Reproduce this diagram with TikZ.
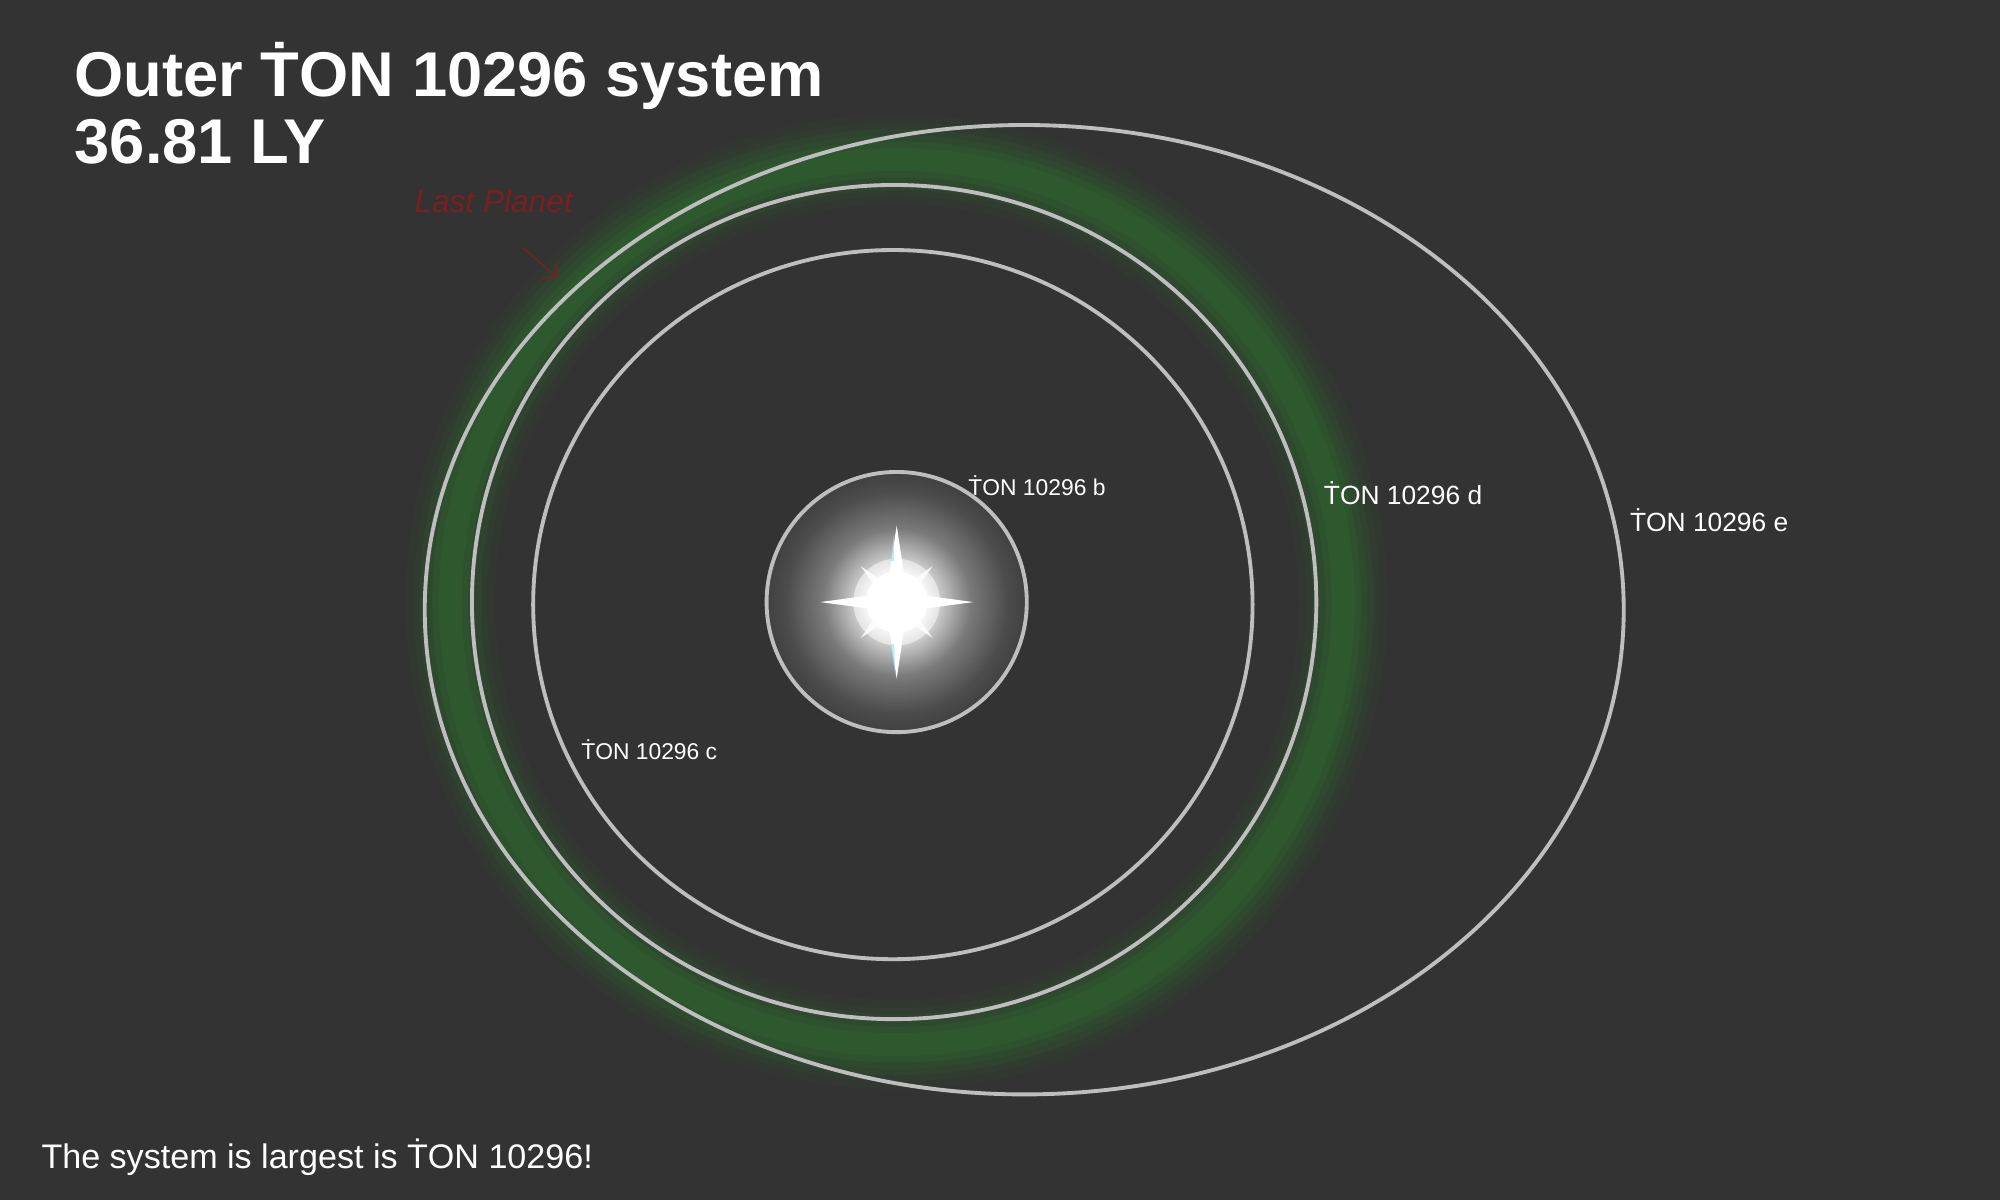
\documentclass[tikz,border=0pt]{standalone}
\usepackage{fontspec}
\setmainfont{Liberation Sans}
\usetikzlibrary{arrows.meta, positioning}
\definecolor{bgdark}{HTML}{333333}
\definecolor{orbitgray}{HTML}{BEBEBE}
\definecolor{glowgreen}{HTML}{2E7A2E}
\definecolor{penred}{HTML}{7A2020}
\pgfdeclareradialshading{stardisk}{\pgfpoint{0bp}{0bp}}{%
  color(0bp)=(white); color(4.5bp)=(white); color(8bp)=(white!80!black);
  color(14bp)=(white!48!black); color(21bp)=(white!30!black); color(25bp)=(white!25!black);
  color(50bp)=(white!25!black)}
\begin{document}
\begin{tikzpicture}[x=0.012755cm, y=-0.012755cm,
    orbit/.style={draw=orbitgray, line width=1.1pt},
    planet/.style={text=white, inner sep=0pt, font=\fontsize{6.5}{8}\selectfont},
    bigplanet/.style={text=white, inner sep=0pt, font=\fontsize{7.5}{9}\selectfont}
]
    \fill[bgdark] (0,0) rectangle (1568,941);
    \useasboundingbox (0,0) rectangle (1568,941);

    % green belt
    \foreach \w/\o in {70/0.06, 58/0.08, 48/0.1, 38/0.14, 28/0.18, 18/0.2}
        \draw[glowgreen, line width=\w*0.3627pt, opacity=\o] (703,472) ellipse [x radius=350, y radius=347];

    % star
    \coordinate (star) at (703,472);
    \shade[shading=stardisk] (star) circle [radius=103];
    \fill[white, opacity=0.5] (star) circle [radius=34];
    \fill[white] (star) circle [radius=24];
    \fill[white] (star) ++(-60,0) -- ++(52,-7) -- ++(8,-53) -- ++(8,53) -- ++(52,7)
        -- ++(-52,7) -- ++(-8,53) -- ++(-8,-53) -- cycle;
    \fill[white, opacity=0.8, rotate around={45:(star)}] (star) ++(-40,0) -- ++(34,-6) -- ++(6,-34) -- ++(6,34) -- ++(34,6)
        -- ++(-34,6) -- ++(-6,34) -- ++(-6,-34) -- cycle;
    \fill[cyan!40!white, opacity=0.6] (698,505) -- (702,530) -- (701,505) -- cycle;
    \fill[cyan!40!white, opacity=0.6] (698,440) -- (701,418) -- (701,440) -- cycle;

    % orbits
    \draw[orbit] (star) circle [radius=102];
    \draw[orbit] (700,474) ellipse [x radius=282, y radius=278];
    \draw[orbit] (701,472) ellipse [x radius=331, y radius=327];
    \draw[orbit] (803,478) ellipse [x radius=470, y radius=380];

    % labels
    \node[planet] (pb) at (813,381) {ṪON 10296 b};
    \node[planet] (pc) at (509,588) {ṪON 10296 c};
    \node[bigplanet] (pd) at (1100,387) {ṪON 10296 d};
    \node[bigplanet] (pe) at (1340,408) {ṪON 10296 e};

    \node[text=white, anchor=north west, align=left, inner sep=0pt,
        font=\fontsize{18}{19}\selectfont\bfseries] (title) at (58,33) {Outer ṪON 10296 system\\36.81 LY};
    \node[text=white, anchor=west, inner sep=0pt, font=\fontsize{9.7}{12}\selectfont] (note) at (32,907)
        {The system is largest is ṪON 10296!};

    % hand-written remark
    \node[text=penred, font=\fontsize{9}{10}\selectfont\itshape, inner sep=0pt] (last) at (387,158) {Last Planet};
    \coordinate (tip) at (437,218);
    \draw[penred, line width=0.4pt, -{Straight Barb[length=3pt]}] (410,194) -- (tip);
\end{tikzpicture}
\end{document}
